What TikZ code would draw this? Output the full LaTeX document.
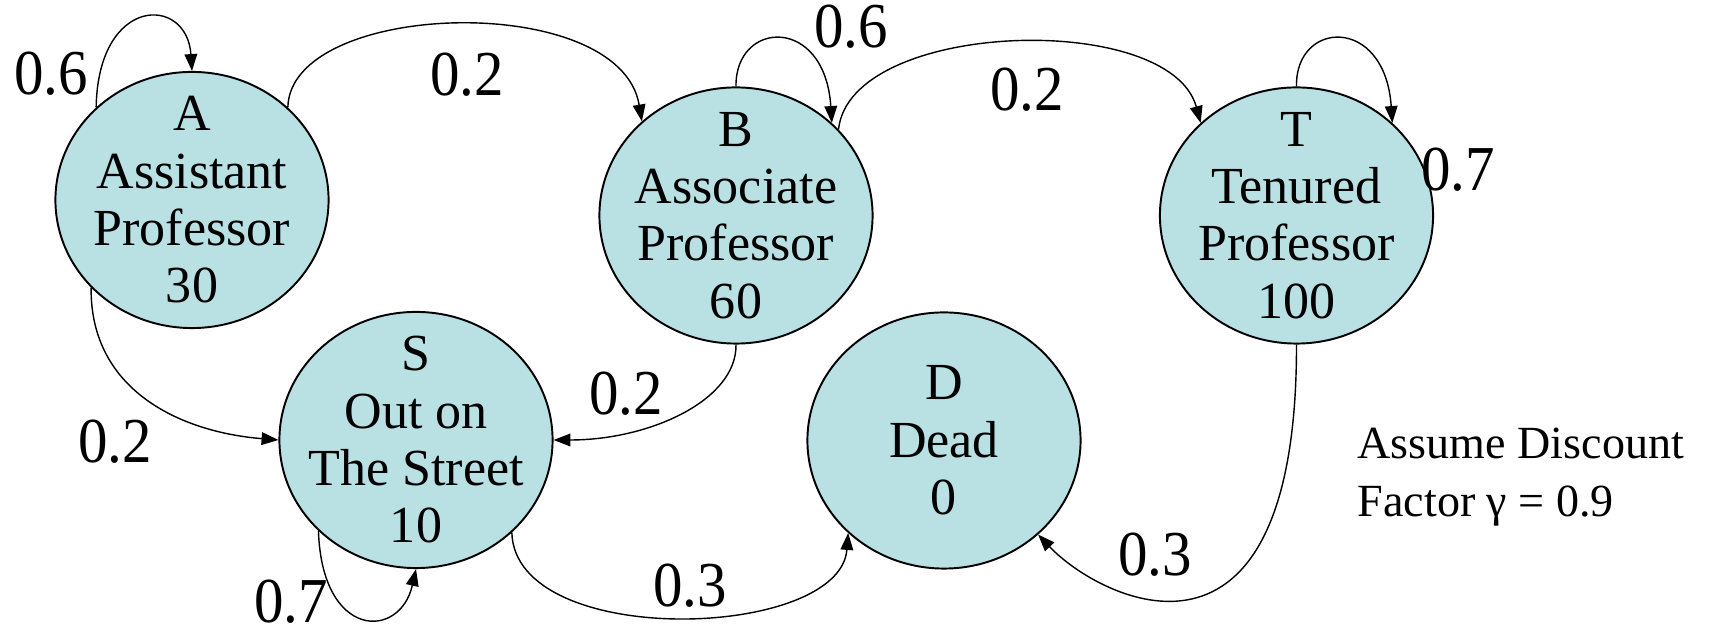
\documentclass[tikz,border=0pt]{standalone}
\usepackage{fontspec}
\setmainfont{Liberation Serif}
\newfontfamily\probfont[FakeStretch=0.92]{Liberation Serif}
\usetikzlibrary{shapes.geometric,arrows.meta}
\definecolor{statefill}{RGB}{185,224,227}
\begin{document}
\begin{tikzpicture}[x=0.01cm,y=-0.01cm,
  state/.style={ellipse,draw=black,line width=0.55pt,fill=statefill,
    minimum width=2.73cm,minimum height=2.56cm,inner sep=0pt},
  statetext/.style={align=center,inner sep=0pt,
    font=\fontsize{14.8}{16.3}\selectfont},
  prob/.style={inner sep=0pt,font=\probfont\fontsize{18.2}{20}\selectfont},
  note/.style={align=left,inner sep=0pt,font=\fontsize{13.1}{16.5}\selectfont},
  edge/.style={line width=0.4pt,-{Triangle[length=4.8pt,width=3.6pt]}}]
\useasboundingbox (0,0) rectangle (1717,628);

% states
\node[state] (A) at (192,200) {};
\node[statetext] (At) at (A.center) {A\\Assistant\\Professor\\30};
\node[state] (B) at (736,215.5) {};
\node[statetext] (Bt) at (B.center) {B\\Associate\\Professor\\60};
\node[state] (T) at (1296.5,215.5) {};
\node[statetext] (Tt) at (T.center) {T\\Tenured\\Professor\\100};
\node[state] (S) at (416,440) {};
\node[statetext] (St) at (S.center) {S\\Out on\\The Street\\10};
\node[state] (D) at (944,440.5) {};
\node[statetext] (Dt) at (D.center) {D\\Dead\\0};

% transitions
\draw[edge] (A.136) .. controls (98,-5) and (187,-5) .. (A.90);
\draw[edge] (A.44) .. controls (290,0) and (620,-10) .. (B.135.5);
\draw[edge] (B.90) .. controls (735,20) and (825,15) .. (B.44);
\draw[edge] (B.40) .. controls (850,20) and (1170,10) .. (T.136.8);
\draw[edge] (T.90) .. controls (1295,20) and (1385,15) .. (T.44);
\draw[edge] (A.221) .. controls (90,390) and (180,432) .. (S.180);
\draw[edge] (B.270) .. controls (737,400) and (650,440) .. (S.0);
\draw[edge] (S.223) .. controls (322,640) and (400,640) .. (S.270);
\draw[edge] (S.316) .. controls (515,650) and (840,640) .. (D.224.5);
\draw[edge] (T.270) .. controls (1297,700) and (1100,600) .. (D.315.5);

% transition probabilities
\node[prob] (pA)  at (51,74)    {0.6};
\node[prob] (pAB) at (467,75)   {0.2};
\node[prob] (pB)  at (851,27)   {0.6};
\node[prob] (pBT) at (1027,90)  {0.2};
\node[prob] (pT)  at (1458,170) {0.7};
\node[prob] (pAS) at (115,442)  {0.2};
\node[prob] (pBS) at (626,394)  {0.2};
\node[prob] (pS)  at (291,602)  {0.7};
\node[prob] (pSD) at (690,586)  {0.3};
\node[prob] (pTD) at (1155,555) {0.3};

% discount note
\node[note,anchor=north west] (gamma) at (1357,427) {Assume Discount\\Factor γ = 0.9};
\end{tikzpicture}
\end{document}
